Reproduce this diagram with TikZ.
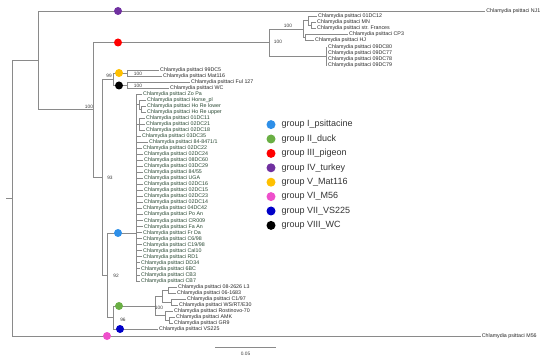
\documentclass[tikz,border=0pt]{standalone}
\usepackage{fontspec}
\setmainfont{Liberation Sans}
\usetikzlibrary{positioning}
\definecolor{treegray}{HTML}{8A8A8A}
\definecolor{leafink}{HTML}{262626}
\definecolor{psitink}{HTML}{25452F}
\definecolor{bootink}{HTML}{3A3A3A}
\definecolor{legink}{HTML}{333333}
\definecolor{gIblue}{HTML}{2E8FE8}
\definecolor{gIIgreen}{HTML}{6AAF44}
\definecolor{gIIIred}{HTML}{FF0000}
\definecolor{gIVpurple}{HTML}{7030A0}
\definecolor{gVyellow}{HTML}{FFC000}
\definecolor{gVIpink}{HTML}{EE4FCB}
\definecolor{gVIIblue}{HTML}{0000C8}
\definecolor{gVIIIblack}{HTML}{000000}
\tikzset{
  branch/.style={draw=treegray, line width=0.8pt},
  leaf/.style={anchor=west, inner sep=1.2pt, font=\fontsize{5.3}{5.5}\selectfont, text=leafink},
  psit/.style={leaf, text=psitink},
  boot/.style={inner sep=0pt, font=\fontsize{4.8}{5}\selectfont, text=bootink},
  clade/.style={circle, inner sep=0pt, minimum size=8pt},
  legdot/.style={circle, inner sep=0pt, minimum size=9pt},
  legtext/.style={anchor=west, inner sep=2pt, font=\fontsize{9}{10}\selectfont, text=legink}
}

\begin{document}
\begin{tikzpicture}[x=1pt, y=-1pt]
  \useasboundingbox (0,0) rectangle (550,361);

  % inner nodes of the tree
  \coordinate (stub) at (6,198);
  \coordinate (root) at (12,198);
  \coordinate (nA) at (38,60);
  \coordinate (nB) at (93,109.5);
  \coordinate (nC) at (269,42.5);
  \coordinate (nD) at (303,29);
  \coordinate (nE) at (308,20.5);
  \coordinate (nMN) at (311,25);
  \coordinate (nCP) at (305,37);
  \coordinate (n09) at (326,56);
  \coordinate (nF) at (102,177);
  \coordinate (nMW) at (113,79.25);
  \coordinate (nYel) at (127,73);
  \coordinate (nBlk) at (127,85.5);
  \coordinate (nG) at (107,275);
  \coordinate (nI) at (136,233);
  \coordinate (nHo) at (139,104.5);
  \coordinate (nHR) at (141,109);
  \coordinate (nDC) at (139,124.2);
  \coordinate (nH) at (113,317.5);
  \coordinate (nDk) at (155,306);
  \coordinate (nDk1) at (162,296);
  \coordinate (nDk2) at (165,315.5);
  \coordinate (nDa) at (168,290);
  \coordinate (nDb) at (171,302);
  \coordinate (nDc) at (169,320);

  % leaves outside group I
  \node[leaf] (nj1) at (485,11) {Chlamydia psittaci NJ1};
  \node[leaf] (m56) at (480.5,336) {Chlamydia psittaci M56};
  \node[leaf] (p01) at (316.8,16) {Chlamydia psittaci 01DC12};
  \node[leaf] (pMN) at (315.8,22) {Chlamydia psittaci MN};
  \node[leaf] (pFr) at (315.8,28) {Chlamydia psittaci str. Frances};
  \node[leaf] (pCP3) at (347.8,34) {Chlamydia psittaci CP3};
  \node[leaf] (pHJ) at (313.8,40) {Chlamydia psittaci HJ};
  \node[leaf] (p80) at (326.8,47) {Chlamydia psittaci 09DC80};
  \node[leaf] (p77) at (326.8,53) {Chlamydia psittaci 09DC77};
  \node[leaf] (p78) at (326.8,59) {Chlamydia psittaci 09DC78};
  \node[leaf] (p79) at (326.8,65) {Chlamydia psittaci 09DC79};
  \node[leaf] (l99) at (158.8,70) {Chlamydia psittaci 99DC5};
  \node[leaf] (lMat) at (161.8,76) {Chlamydia psittaci Mat116};
  \node[leaf] (lFul) at (189.8,82.5) {Chlamydia psittaci Ful 127};
  \node[leaf] (lWC) at (168.8,88.5) {Chlamydia psittaci WC};
  \node[leaf] (d1) at (176.8,287) {Chlamydia psittaci 08-2626 L3};
  \node[leaf] (d2) at (175.8,293) {Chlamydia psittaci 06-1683};
  \node[leaf] (d3) at (185.8,299) {Chlamydia psittaci C1/97};
  \node[leaf] (d4) at (177.8,305) {Chlamydia psittaci WS/RT/E30};
  \node[leaf] (d5) at (172.8,311) {Chlamydia psittaci Rostinovo-70};
  \node[leaf] (d6) at (174.8,317) {Chlamydia psittaci AMK};
  \node[leaf] (d7) at (172.8,323) {Chlamydia psittaci GR9};
  \node[leaf] (vs225) at (157.8,329) {Chlamydia psittaci VS225};

  % branches
  \draw[branch] (stub) -- (root);
  \draw[branch] (root) |- (nA);
  \draw[branch] (root) |- (m56.west);
  \draw[branch] (nA) |- (nj1.west);
  \draw[branch] (nA) |- (nB);
  \draw[branch] (nB) |- (nC);
  \draw[branch] (nB) |- (nF);
  \draw[branch] (nC) |- (nD);
  \draw[branch] (nC) |- (n09);
  \draw[branch] (nD) |- (nE);
  \draw[branch] (nD) |- (nCP);
  \draw[branch] (nE) |- (p01.west);
  \draw[branch] (nE) |- (nMN);
  \draw[branch] (nMN) |- (pMN.west);
  \draw[branch] (nMN) |- (pFr.west);
  \draw[branch] (nCP) |- (pCP3.west);
  \draw[branch] (nCP) |- (pHJ.west);
  \draw[branch] (n09) |- (p80.west);
  \draw[branch] (n09) |- (p77.west);
  \draw[branch] (n09) |- (p78.west);
  \draw[branch] (n09) |- (p79.west);
  \draw[branch] (nF) |- (nMW);
  \draw[branch] (nF) |- (nG);
  \draw[branch] (nMW) |- (nYel);
  \draw[branch] (nMW) |- (nBlk);
  \draw[branch] (nYel) |- (l99.west);
  \draw[branch] (nYel) |- (lMat.west);
  \draw[branch] (nBlk) |- (lFul.west);
  \draw[branch] (nBlk) |- (lWC.west);
  \draw[branch] (nG) |- (nI);
  \draw[branch] (nG) |- (nH);
  \draw[branch] (nI) |- (nHo);
  \draw[branch] (nHo) |- (nHR);
  \draw[branch] (nI) |- (nDC);
  \draw[branch] (nH) |- (nDk);
  \draw[branch] (nH) |- (vs225.west);
  \draw[branch] (nDk) |- (nDk1);
  \draw[branch] (nDk) |- (nDk2);
  \draw[branch] (nDk1) |- (nDa);
  \draw[branch] (nDk1) |- (nDb);
  \draw[branch] (nDa) |- (d1.west);
  \draw[branch] (nDa) |- (d2.west);
  \draw[branch] (nDb) |- (d3.west);
  \draw[branch] (nDb) |- (d4.west);
  \draw[branch] (nDk2) |- (d5.west);
  \draw[branch] (nDk2) |- (nDc);
  \draw[branch] (nDc) |- (d6.west);
  \draw[branch] (nDc) |- (d7.west);

  % group I leaves
  \foreach \i/\lab/\lx/\up in {1/Zo Pa/143/nI, 2/Horse\_pl/147/nHo, 3/Ho Re lower/147/nHR,
      4/Ho Re upper/147/nHR, 5/01DC11/146/nDC, 6/02DC21/146/nDC, 7/02DC18/146/nDC,
      8/03DC35/142/nI, 9/{84-8471/1}/149/nI, 10/02DC22/143/nI, 11/02DC24/144/nI,
      12/08DC60/144/nI, 13/03DC29/144/nI, 14/{84/55}/144/nI, 15/UGA/144/nI,
      16/02DC16/144/nI, 17/02DC15/144/nI, 18/02DC23/144/nI, 19/02DC14/144/nI,
      20/04DC42/143/nI, 21/Po An/144/nI, 22/CR009/144/nI, 23/Fa An/144/nI,
      24/Fr Da/143/nI, 25/{C6/98}/143/nI, 26/{C19/98}/143/nI, 27/Cal10/143/nI,
      28/RD1/143/nI, 29/DD34/141/nI, 30/6BC/141/nI, 31/CB3/141/nI, 32/CB7/141/nI}{
    \node[psit] (gI-\i) at ({\lx-1.2},{94+6.03*(\i-1)}) {Chlamydia psittaci \lab};
    \draw[branch] (\up) |- (gI-\i.west);
  }

  % bootstrap values
  \node[boot] (bB) at (89,106.5) {100};
  \node[boot] (bC) at (278,42) {100};
  \node[boot] (bD) at (288,26) {100};
  \node[boot] (bMW) at (109,76) {99};
  \node[boot] (bYel) at (138,73.5) {100};
  \node[boot] (bBlk) at (138,85.5) {100};
  \node[boot] (bF) at (110,178) {93};
  \node[boot] (bG) at (116,276) {92};
  \node[boot] (bH) at (123,319.5) {96};
  \node[boot] (bDk) at (159,308) {100};

  % group marks on the branches
  \node[clade, fill=gIVpurple] (mIV) at (118,11) {};
  \node[clade, fill=gIIIred] (mIII) at (118,42.5) {};
  \node[clade, fill=gVyellow] (mV) at (119,73) {};
  \node[clade, fill=gVIIIblack] (mVIII) at (119,85.5) {};
  \node[clade, fill=gIblue] (mI) at (118,233) {};
  \node[clade, fill=gIIgreen] (mII) at (119,306) {};
  \node[clade, fill=gVIIblue] (mVII) at (120,329) {};
  \node[clade, fill=gVIpink] (mVI) at (107,336) {};

  % legend
  \foreach \k/\gcol/\gname in {0/gIblue/I\_psittacine, 1/gIIgreen/II\_duck, 2/gIIIred/III\_pigeon,
      3/gIVpurple/IV\_turkey, 4/gVyellow/V\_Mat116, 5/gVIpink/VI\_M56,
      6/gVIIblue/VII\_VS225, 7/gVIIIblack/VIII\_WC}{
    \node[legdot, fill=\gcol] (key-\k) at (271,{124.6+14.4*\k}) {};
    \node[legtext] (keytext-\k) at (279.5,{124.6+14.4*\k}) {group \gname};
  }

  % scale bar
  \coordinate (sbL) at (215,347);
  \coordinate (sbR) at (276,347);
  \draw[branch] (sbL) -- (sbR);
  \node[boot] (sbtext) at (245.5,354) {0.05};
\end{tikzpicture}
\end{document}
